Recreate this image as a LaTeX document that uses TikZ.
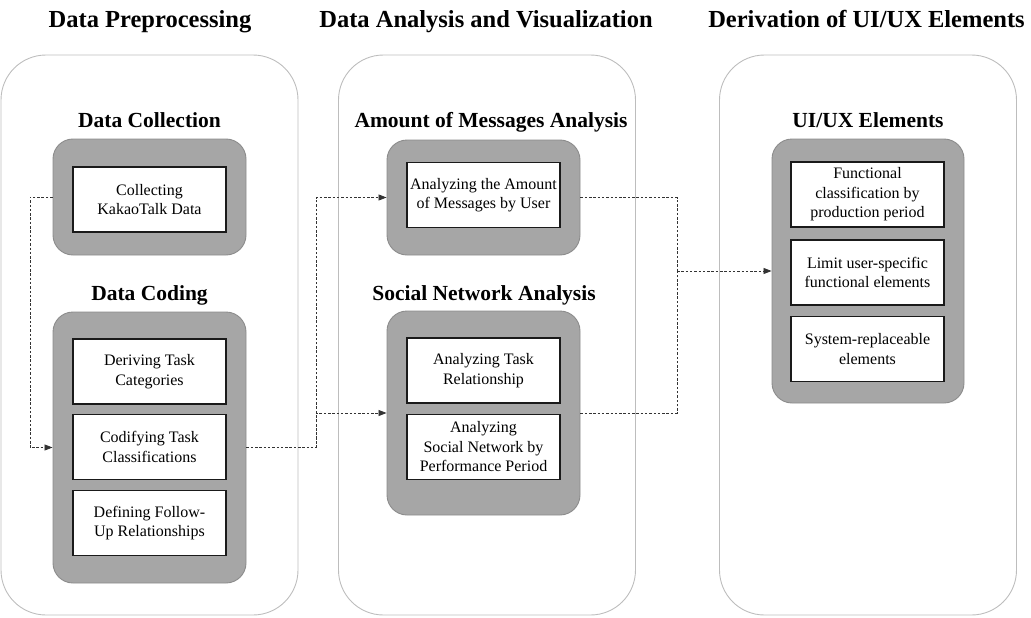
\documentclass[tikz,border=0pt]{standalone}
\usepackage{fontspec}
\setmainfont{Liberation Serif}
\usetikzlibrary{arrows.meta}
\definecolor{panelline}{HTML}{BDBDBD}
\definecolor{grayfill}{HTML}{A6A6A6}
\definecolor{grayline}{HTML}{8C8C8C}
\definecolor{boxline}{HTML}{1A1A1A}
\definecolor{conn}{HTML}{333333}
\begin{document}
\begin{tikzpicture}[x=1pt,y=-1pt,
  panel/.style={draw=panelline,line width=0.9pt,rounded corners=45pt,minimum width=297pt,minimum height=560pt,inner sep=0pt},
  graybox/.style={draw=grayline,fill=grayfill,line width=0.9pt,rounded corners=20pt,minimum width=193pt,inner sep=0pt},
  itembox/.style={draw=boxline,fill=white,line width=1.4pt,minimum width=153pt,minimum height=65pt,inner sep=1pt,align=center,font=\fontsize{16}{19.5}\selectfont},
  ptitle/.style={anchor=base,font=\fontsize{24.5}{28}\selectfont\bfseries},
  stitle/.style={anchor=base,font=\fontsize{21.5}{25}\selectfont\bfseries},
  conline/.style={draw=conn,line width=0.8pt,dash pattern=on 2.5pt off 1.8pt},
  arr/.style={-{Triangle[length=8pt,width=6pt]}}
]
\useasboundingbox (0,0) rectangle (1031,618);

% panels
\node[panel] (p1) at (149.5,335) {};
\node[panel] (p2) at (487,335) {};
\node[panel] (p3) at (868,335) {};

% panel titles
\node[ptitle] (t1) at (150,28) {Data Preprocessing};
\node[ptitle] (t2) at (486,28) {Data Analysis and Visualization};
\node[ptitle] (t3) at (866.5,28) {Derivation of UI/UX Elements};

% section titles
\node[stitle] (st1) at (149.5,127) {Data Collection};
\node[stitle] (st2) at (149.5,300) {Data Coding};
\node[stitle] (st3) at (491,128) {Amount of Messages Analysis};
\node[stitle] (st4) at (484,300) {Social Network Analysis};
\node[stitle] (st5) at (868,127) {UI/UX Elements};

% gray boxes
\node[graybox,minimum height=116pt] (g1) at (149.5,197) {};
\node[graybox,minimum height=271pt] (g2) at (149.5,447.5) {};
\node[graybox,minimum height=115pt] (g3) at (483.5,197.5) {};
\node[graybox,minimum height=204pt] (g4) at (483.5,413) {};
\node[graybox,minimum width=192pt,minimum height=264pt] (g5) at (868,271) {};

% item boxes
\node[itembox] (c1) at (149.5,199.5) {Collecting\\KakaoTalk Data};
\node[itembox] (d1) at (149.5,371.5) {Deriving Task\\Categories};
\node[itembox] (d2) at (149.5,447) {Codifying Task\\Classifications};
\node[itembox] (d3) at (149.5,523) {Defining Follow-\\Up Relationships};
\node[itembox] (m1) at (483.5,195) {Analyzing the Amount\\of Messages by User};
\node[itembox] (s1) at (483.5,370.5) {Analyzing Task\\Relationship};
\node[itembox] (s2) at (483.5,447) {Analyzing\\Social Network by\\Performance Period};
\node[itembox] (u1) at (867.5,194.5) {Functional\\classification by\\production period};
\node[itembox] (u2) at (867.5,272.5) {Limit user-specific\\functional elements};
\node[itembox] (u3) at (867.5,349) {System-replaceable\\elements};

% connectors
\coordinate (k1) at (30,197);
\coordinate (j1) at (316,447.5);
\coordinate (j2) at (677,271);
\draw[conline,arr] (g1.west) -- (k1) |- (g2.west);
\draw[conline,arr] (g2.east) -- (j1) |- (g4.west);
\draw[conline,arr] (j1) |- (g3.west);
\draw[conline] (g3.east) -| (j2);
\draw[conline] (g4.east) -| (j2);
\draw[conline,arr] (j2) -- (g5.west);
\end{tikzpicture}
\end{document}
